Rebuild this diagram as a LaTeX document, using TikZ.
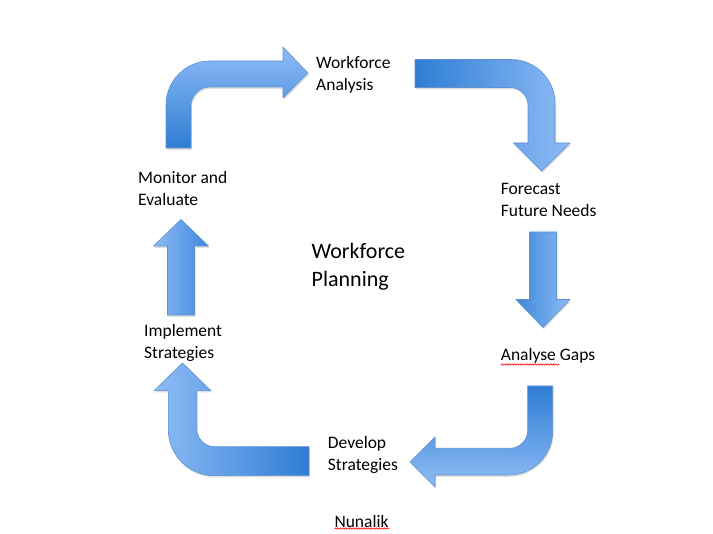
\documentclass[tikz,border=0pt]{standalone}
\usepackage{fontspec}
\setmainfont{Carlito}
\usetikzlibrary{decorations.pathmorphing}
\definecolor{adark}{RGB}{47,125,212}
\definecolor{alight}{RGB}{142,188,246}
\definecolor{aline}{RGB}{95,145,210}
\tikzset{
  arrowshape/.style={draw=aline, line width=0.6pt},
  shad/.style={fill=black, opacity=0.13, shift={(1,1.8)}},
  lbl/.style={anchor=west, inner sep=0pt, align=left, text=black, font=\fontsize{17.5}{22}\selectfont},
  biglbl/.style={lbl, font=\fontsize{22}{28}\selectfont},
  spell/.style={draw=red, line width=0.6pt, decorate, decoration={snake, amplitude=0.7pt, segment length=2.6pt}}
}
\def\pA{(166,148) -- (166,105) .. controls (166,80.7) and (185.7,61) .. (210,61) -- (283,61) -- (283,47) -- (308,73) -- (283,98) -- (283,87) -- (209,87) .. controls (199.06,87) and (191,96.94) .. (191,105) -- (191,148) -- cycle}
\def\pB{(415,59.5) -- (511,59.5) .. controls (535.3,59.5) and (555,79.2) .. (555,103.5) -- (555,143) -- (570,143) -- (541.5,171) -- (513.5,143) -- (528,143) -- (528,105.5) .. controls (528,95.56) and (519.94,87.5) .. (510,87.5) -- (415,87.5) -- cycle}
\def\pC{(529.5,232) -- (556.5,232) -- (556.5,299.5) -- (570,299.5) -- (543,327.5) -- (516,299.5) -- (529.5,299.5) -- cycle}
\def\pD{(527.7,386) -- (552.7,386) -- (552.7,431) .. controls (552.7,455.3) and (533,475) .. (508.7,475) -- (435,475) -- (435,487) -- (410,462) -- (435,437) -- (435,448.3) -- (509.7,448.3) .. controls (519.64,448.3) and (527.7,440.24) .. (527.7,430.3) -- cycle}
\def\pE{(309,446.7) -- (309,475.7) -- (214.3,475.7) .. controls (188.9,475.7) and (168.3,455.1) .. (168.3,429.7) -- (168.3,390.7) -- (154,390.7) -- (182.5,363) -- (211,390.7) -- (196.7,390.7) -- (196.7,428.7) .. controls (196.7,438.64) and (204.76,446.7) .. (214.7,446.7) -- cycle}
\def\pF{(167.5,315) -- (167.5,246) -- (153.5,246) -- (181,219.5) -- (208.5,246) -- (194.5,246) -- (194.5,315) -- cycle}
\begin{document}
\begin{tikzpicture}[x=1pt,y=-1pt]
\path[use as bounding box, fill=white] (0,0) rectangle (713,534);
% shadows
\fill[shad] \pA; \fill[shad] \pB; \fill[shad] \pC;
\fill[shad] \pD; \fill[shad] \pE; \fill[shad] \pF;
% arrows
\shadedraw[arrowshape, top color=alight, bottom color=adark] \pA;
\shadedraw[arrowshape, left color=adark, right color=alight] \pB;
\shadedraw[arrowshape, left color=adark!85!alight, right color=alight] \pC;
\shadedraw[arrowshape, top color=adark, bottom color=alight] \pD;
\shadedraw[arrowshape, left color=alight, right color=adark] \pE;
\shadedraw[arrowshape, left color=alight, right color=adark!85!alight] \pF;
% labels
\node[lbl] (wa) at (316,75) {Workforce\\Analysis};
\node[lbl] (fc) at (500.7,199.5) {Forecast\\Future Needs};
\node[lbl] (ag) at (500.7,355.5) {Analyse Gaps};
\node[lbl] (ds) at (327.7,455) {Develop\\Strategies};
\node[lbl] (is) at (144,342.5) {Implement\\Strategies};
\node[lbl] (me) at (138,188) {Monitor and\\Evaluate};
\node[biglbl] (wp) at (311.5,266.5) {Workforce\\Planning};
\node[lbl] (nu) at (334.3,521) {Nunalik};
% spelling underlines
\coordinate (u1a) at (500.7,364.5);
\coordinate (u1b) at (559,364.5);
\coordinate (u2a) at (334.3,528.5);
\coordinate (u2b) at (389,528.5);
\draw[spell] (u1a) -- (u1b);
\draw[spell] (u2a) -- (u2b);
\end{tikzpicture}
\end{document}
